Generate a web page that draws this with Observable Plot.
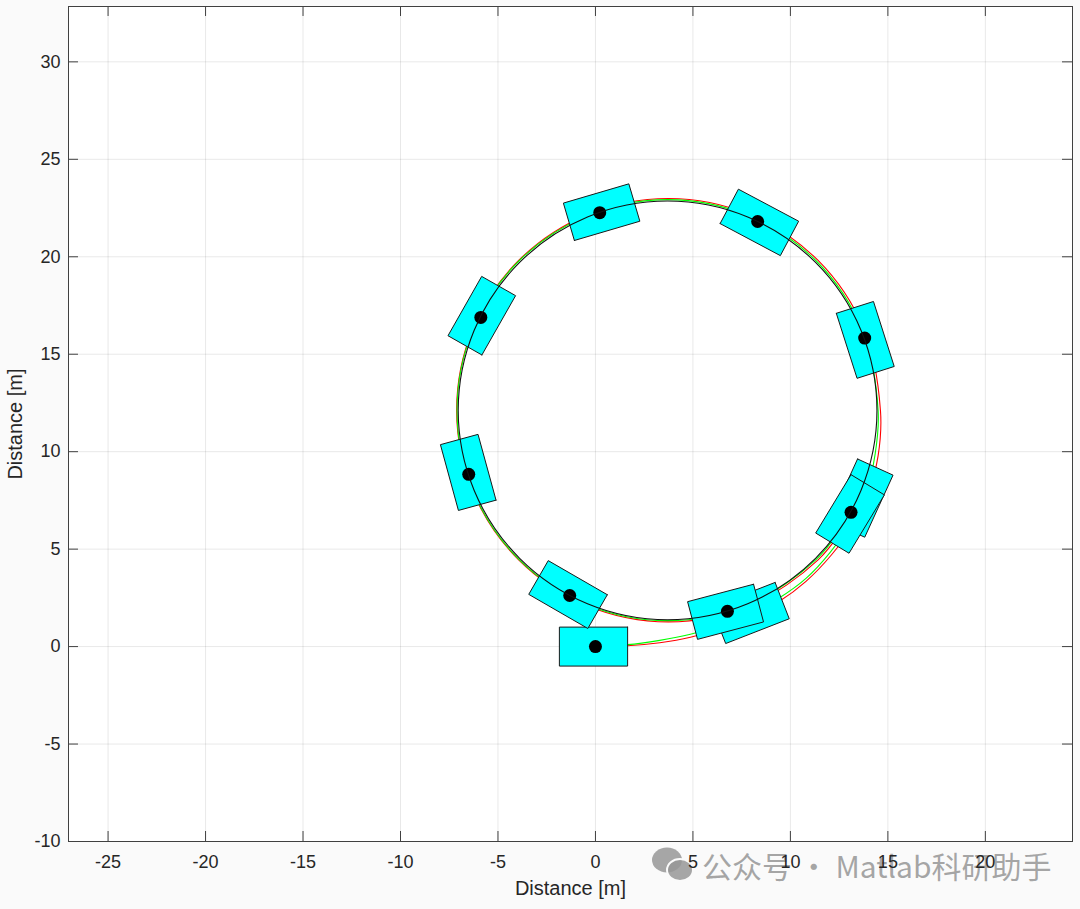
<!DOCTYPE html>
<html>
<head>
<meta charset="utf-8">
<script src="https://cdn.jsdelivr.net/npm/d3@7"></script>
<script src="https://cdn.jsdelivr.net/npm/@observablehq/plot@0.6"></script>
<style>
  html, body { margin: 0; padding: 0; background: #fafafa; }
  #wrap { position: relative; width: 1080px; height: 909px; }
  #wm { position: absolute; left: 650px; top: 843px; z-index: 0; display: flex; align-items: center;
        font-family: "Noto Sans CJK SC", sans-serif; font-size: 30px; color: rgba(150,150,150,0.85); white-space: nowrap; }
  #chart { position: absolute; left: 0; top: 0; z-index: 1; }
</style>
</head>
<body>
<div id="wrap">
  <div id="wm"><svg width="46" height="40" viewBox="0 0 46 40"><ellipse cx="17" cy="15" rx="15" ry="12.5" fill="rgba(150,150,150,0.85)"/><ellipse cx="30" cy="25" rx="13" ry="11" fill="rgba(150,150,150,0.85)" stroke="#fafafa" stroke-width="2"/></svg><span style="margin-left:6px">公众号 · Matlab科研助手</span></div>
  <div id="chart"></div>
</div>
<script>
// Axis ticks
const xTicks = [-25, -20, -15, -10, -5, 0, 5, 10, 15, 20];
const yTicks = [-10, -5, 0, 5, 10, 15, 20, 25, 30];
const xDomain = [-27.03, 24.47];
const yDomain = [-10, 32.84];

// Vehicle snapshots (reference point, heading in degrees)
const vehX = [0, 8.04, 13.67, 13.81, 8.32, 0.22, -5.88, -6.50, -1.32, 6.77, 13.11];
const vehY = [0, 1.76, 7.71, 15.83, 21.81, 22.26, 16.89, 8.84, 2.62, 1.81, 6.89];
const vehHeading = [0, 21.3, 65.5, 107.7, 152, 196.4, 240.4, 285.3, 330, 14.8, 58.8];
const vehFront = 1.65, vehRear = 1.85, vehHalfWidth = 1.0;

// Red trajectory
const redX = [0, 1.64, 3.3, 4.87, 6.4, 7.9, 9.4, 10.8, 12.1, 13.2, 14.0, 14.5, 14.62, 13.77, 11.42, 7.90, 3.74, -0.42, -3.94, -6.29, -7.12, -6.29, -3.94, -0.42, 3.74, 7.90, 11.42, 13.14];
const redY = [0, 0.04, 0.2, 0.48, 0.92, 1.5, 2.3, 3.35, 4.7, 6.2, 7.9, 9.8, 12.1, 16.29, 19.81, 22.16, 22.99, 22.16, 19.81, 16.29, 12.13, 7.97, 4.45, 2.10, 1.27, 2.10, 4.45, 6.70];
// Green trajectory
const greenX = [0, 1.64, 3.3, 4.87, 6.4, 7.9, 9.4, 10.8, 12.05, 13.1, 13.9, 14.35, 14.5, 13.68, 11.34, 7.83, 3.70, -0.43, -3.94, -6.28, -7.10, -6.28, -3.94, -0.43, 3.70, 7.83, 11.34, 13.05];
const greenY = [0.05, 0.1, 0.32, 0.63, 1.08, 1.68, 2.48, 3.5, 4.85, 6.35, 8.0, 9.9, 12.1, 16.26, 19.77, 22.11, 22.93, 22.11, 19.77, 16.26, 12.13, 8.00, 4.49, 2.15, 1.33, 2.15, 4.49, 6.73];
// Black reference circle
const blackX = [14.44, 13.62, 11.29, 7.81, 3.70, -0.41, -3.89, -6.22, -7.04, -6.22, -3.89, -0.41, 3.70, 7.81, 11.29, 13.62];
const blackY = [12.12, 16.23, 19.71, 22.04, 22.86, 22.04, 19.71, 16.23, 12.12, 8.01, 4.53, 2.20, 1.38, 2.20, 4.53, 8.01];

const toPts = (xs, ys) => xs.map((x, i) => ({x, y: ys[i]}));
const red = toPts(redX, redY);
const green = toPts(greenX, greenY);
const black = toPts(blackX, blackY);

const vehicles = vehX.map((x, i) => ({id: i, x, y: vehY[i], h: vehHeading[i]}));
function corners(v) {
  const t = v.h * Math.PI / 180;
  const ux = Math.cos(t), uy = Math.sin(t), nx = -uy, ny = ux;
  const pts = [
    [vehFront, vehHalfWidth], [vehFront, -vehHalfWidth],
    [-vehRear, -vehHalfWidth], [-vehRear, vehHalfWidth], [vehFront, vehHalfWidth]
  ];
  return pts.map(([a, b]) => ({id: v.id, x: v.x + a * ux + b * nx, y: v.y + a * uy + b * ny}));
}

const axisColor = "#404040";
const tk = 10 / 19.5;
const font = "'Liberation Sans', Arial, Helvetica, sans-serif";

const vehicleMarks = vehicles.flatMap(v => [
  Plot.line(corners(v), {x: "x", y: "y", fill: "#00ffff", stroke: "#1a1a1a", strokeWidth: 1, strokeLinejoin: "miter", curve: "linear"}),
  Plot.dot([v], {x: "x", y: "y", r: 6.5, fill: "black", stroke: "none"})
]);

const chart = Plot.plot({
  width: 1080,
  height: 909,
  marginLeft: 68,
  marginRight: 8,
  marginTop: 6,
  marginBottom: 68,
  style: {fontFamily: font, fontSize: "18px", background: "transparent", color: "#262626"},
  x: {domain: xDomain},
  y: {domain: yDomain},
  marks: [
    Plot.frame({fill: "white", stroke: null}),
    Plot.gridX(xTicks, {stroke: "#000", strokeOpacity: 0.09}),
    Plot.gridY(yTicks, {stroke: "#000", strokeOpacity: 0.09}),
    Plot.line(red, {x: "x", y: "y", stroke: "#ff0000", strokeWidth: 1.1, curve: "catmull-rom"}),
    Plot.line(green, {x: "x", y: "y", stroke: "#00ff00", strokeWidth: 1.1, curve: "catmull-rom"}),
    ...vehicleMarks,
    Plot.line(black, {x: "x", y: "y", stroke: "#111", strokeWidth: 1.1, curve: "catmull-rom-closed"}),
    Plot.ruleX(xTicks, {x: d => d, y1: yDomain[0], y2: yDomain[0] + tk, stroke: axisColor}),
    Plot.ruleX(xTicks, {x: d => d, y1: yDomain[1] - tk, y2: yDomain[1], stroke: axisColor}),
    Plot.ruleY(yTicks, {y: d => d, x1: xDomain[0], x2: xDomain[0] + tk, stroke: axisColor}),
    Plot.ruleY(yTicks, {y: d => d, x1: xDomain[1] - tk, x2: xDomain[1], stroke: axisColor}),
    Plot.axisX(xTicks, {anchor: "bottom", tickSize: 0, tickPadding: 14, fontSize: 18, tickFormat: d => String(d), label: null}),
    Plot.axisX({anchor: "bottom", ticks: [], tickSize: 0, fontSize: 20,
      label: "Distance [m]", labelAnchor: "center", labelArrow: "none", labelOffset: 53}),
    Plot.axisY(yTicks, {anchor: "left", tickSize: 0, tickPadding: 8, fontSize: 18, tickFormat: d => String(d), label: null}),
    Plot.axisY({anchor: "left", ticks: [], tickSize: 0, fontSize: 20,
      label: "Distance [m]", labelAnchor: "center", labelArrow: "none", labelOffset: 61}),
    Plot.frame({stroke: axisColor, strokeWidth: 1})
  ]
});
document.getElementById("chart").appendChild(chart);
</script>
</body>
</html>
